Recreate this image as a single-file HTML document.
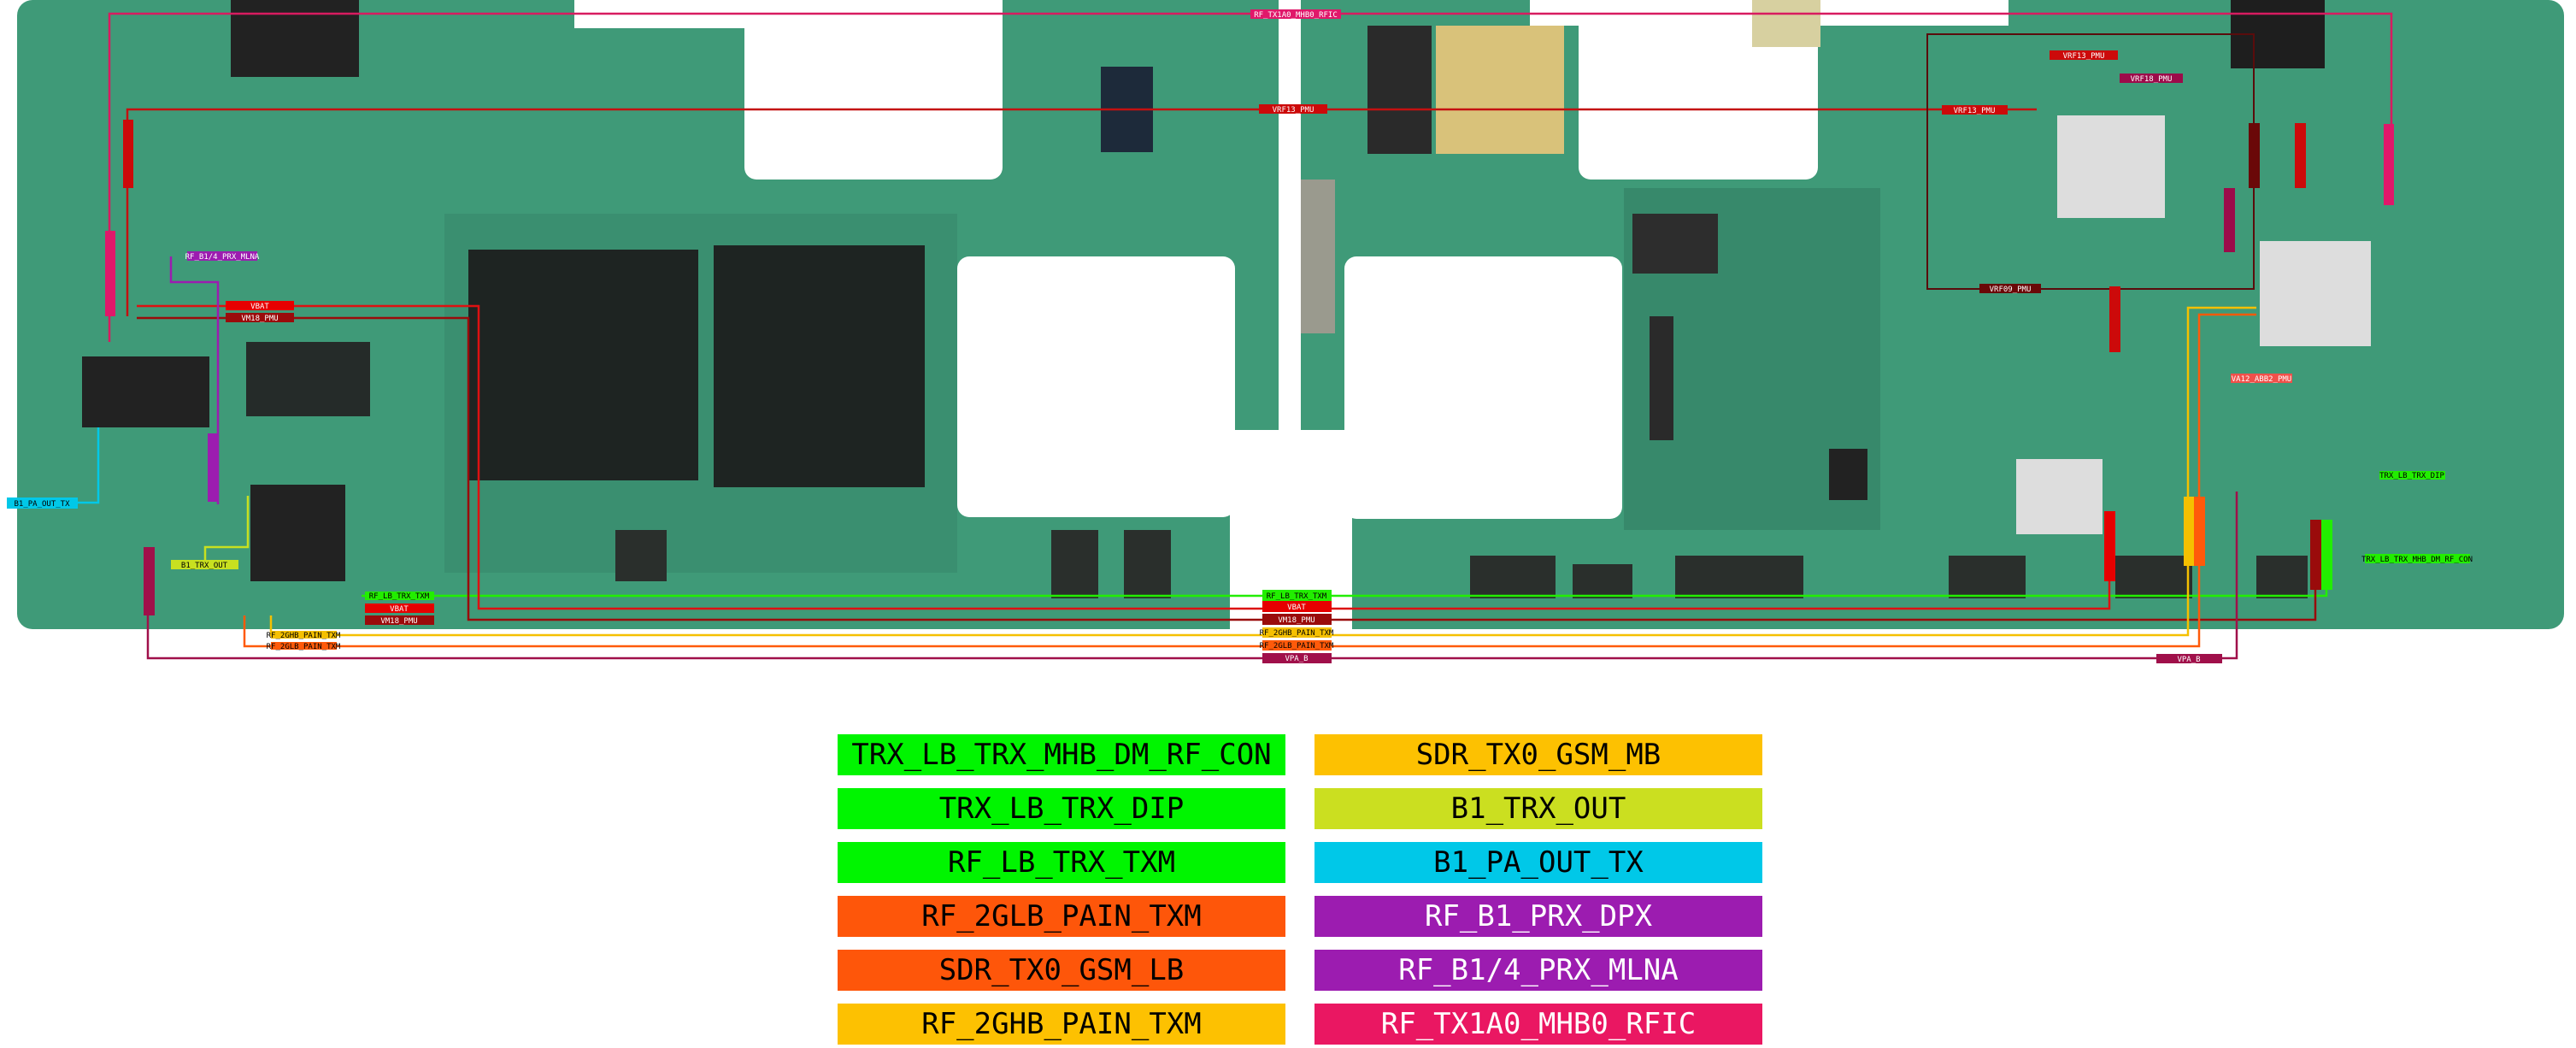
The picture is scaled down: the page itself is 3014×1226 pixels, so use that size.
<!DOCTYPE html>
<html><head><meta charset="utf-8"><style>
html,body{margin:0;padding:0;background:#fff}
body{width:3014px;height:1226px;overflow:hidden;position:relative;font-family:"DejaVu Sans Mono","Liberation Mono",monospace}
.lg{position:absolute;width:524px;height:48px;line-height:48px;text-align:center;font-size:34px;color:#000}
.w{color:#fff}
</style></head><body>
<svg width="3014" height="780" viewBox="0 0 3014 780" style="position:absolute;left:0;top:0" font-family="DejaVu Sans Mono, monospace">
<rect x="20" y="0" width="2980" height="736" rx="18" fill="#3f9a78"/>
<rect x="520" y="250" width="600" height="420" fill="#3a8f70"/>
<rect x="1900" y="220" width="300" height="400" fill="#37896b"/>
<!-- cutouts -->
<rect x="672" y="0" width="501" height="33" fill="#fff"/>
<rect x="871" y="0" width="302" height="210" rx="14" fill="#fff"/>
<rect x="1120" y="300" width="325" height="305" rx="14" fill="#fff"/>
<rect x="1573" y="300" width="325" height="307" rx="14" fill="#fff"/>
<rect x="1847" y="0" width="280" height="210" rx="14" fill="#fff"/>
<rect x="1790" y="0" width="560" height="30" fill="#fff"/>
<rect x="1439" y="503" width="143" height="240" fill="#fff"/>
<rect x="1496" y="0" width="26" height="505" fill="#fff"/>
<rect x="0" y="0" width="20" height="737" fill="#fff"/>
<!-- chips -->
<rect x="548" y="292" width="269" height="270" fill="#1e2422"/>
<rect x="835" y="287" width="247" height="283" fill="#1e2422"/>
<rect x="96" y="417" width="149" height="83" fill="#222"/>
<rect x="288" y="400" width="145" height="87" fill="#252b29"/>
<rect x="293" y="567" width="111" height="113" fill="#222"/>
<rect x="270" y="0" width="150" height="90" fill="#222"/>
<rect x="1288" y="78" width="61" height="100" fill="#1d2a3a"/>
<rect x="2407" y="135" width="126" height="120" fill="#ddd"/>
<rect x="2644" y="282" width="130" height="123" fill="#ddd"/>
<rect x="2359" y="537" width="101" height="88" fill="#ddd"/>
<rect x="1600" y="30" width="75" height="150" fill="#2a2a2a"/>
<rect x="1680" y="30" width="150" height="150" fill="#d9c27a"/>
<rect x="1910" y="250" width="100" height="70" fill="#2d2d2d"/>
<rect x="2050" y="0" width="80" height="55" fill="#d7d0a0"/>
<rect x="2610" y="0" width="110" height="80" fill="#1e1e1e"/>
<rect x="1930" y="370" width="28" height="145" fill="#2a2a2a"/>
<rect x="2140" y="525" width="45" height="60" fill="#222"/>
<rect x="1522" y="210" width="40" height="180" fill="#9a9a8e"/>
<g fill="#2a2f2c"><rect x="720" y="620" width="60" height="60"/><rect x="1720" y="650" width="100" height="50"/><rect x="1960" y="650" width="150" height="50"/><rect x="2280" y="650" width="90" height="50"/><rect x="2475" y="650" width="90" height="50"/><rect x="2640" y="650" width="60" height="50"/><rect x="1840" y="660" width="70" height="40"/><rect x="1230" y="620" width="55" height="80"/><rect x="1315" y="620" width="55" height="80"/></g>
<!-- lines -->
<g fill="none" stroke-width="2.5">
<polyline points="128,400 128,16 2798,16 2798,240" stroke="#d81b60"/>
<polyline points="149,370 149,128 2383,128" stroke="#c41010"/>
<polyline points="423,697 2722,697 2722,608" stroke="#22ee00"/>
<polyline points="160,358 560,358 560,712 2468,712 2468,598" stroke="#dd1111"/>
<polyline points="160,372 548,372 548,725 2709,725 2709,608" stroke="#9a0b0b"/>
<polyline points="317,720 317,743 2560,743 2560,360 2640,360" stroke="#f5c000"/>
<polyline points="286,720 286,756 2573,756 2573,368 2640,368" stroke="#ff5a0a"/>
<polyline points="173,640 173,770 2617,770 2617,575" stroke="#a0104a"/>
<polyline points="200,300 200,330 255,330 255,590" stroke="#9c1cb0"/>
<polyline points="91,588 115,588 115,500" stroke="#00c8e8"/>
<polyline points="240,666 240,640 290,640 290,580" stroke="#c8e020"/>
<rect x="2255" y="40" width="382" height="298" stroke="#5a0c0c" stroke-width="2"/>
</g>
<g font-size="9" text-anchor="middle">
<rect x="1463" y="11" width="106" height="11" fill="#e0186a"/><text x="1516" y="20" fill="#fff">RF_TX1A0_MHB0_RFIC</text>
<rect x="1473" y="122" width="80" height="11" fill="#cc0a0a"/><text x="1513" y="131" fill="#fff">VRF13_PMU</text>
<rect x="2272" y="123" width="77" height="11" fill="#cc0a0a"/><text x="2310" y="132" fill="#fff">VRF13_PMU</text>
<rect x="2398" y="59" width="80" height="11" fill="#cc0a0a"/><text x="2438" y="68" fill="#fff">VRF13_PMU</text>
<rect x="2480" y="86" width="74" height="11" fill="#9c0b4a"/><text x="2517" y="95" fill="#fff">VRF18_PMU</text>
<rect x="2316" y="332" width="72" height="11" fill="#6a0808"/><text x="2352" y="341" fill="#fff">VRF09_PMU</text>
<rect x="2610" y="437" width="72" height="11" fill="#f0504a"/><text x="2646" y="446" fill="#fff">VA12_ABB2_PMU</text>
<rect x="264" y="352" width="80" height="11" fill="#e60000"/><text x="304" y="361" fill="#fff">VBAT</text>
<rect x="264" y="366" width="80" height="11" fill="#9a0b0b"/><text x="304" y="375" fill="#fff">VM18_PMU</text>
<rect x="219" y="294" width="82" height="11" fill="#9c1cb0"/><text x="260" y="303" fill="#fff">RF_B1/4_PRX_MLNA</text>
<rect x="8" y="582" width="83" height="13" fill="#00c8e8"/><text x="49" y="592" fill="#000">B1_PA_OUT_TX</text>
<rect x="200" y="655" width="79" height="11" fill="#c8e020"/><text x="239" y="664" fill="#000">B1_TRX_OUT</text>
<rect x="427" y="692" width="81" height="10" fill="#22ee00"/><text x="467" y="700" fill="#000">RF_LB_TRX_TXM</text>
<rect x="427" y="706" width="81" height="11" fill="#e60000"/><text x="467" y="715" fill="#fff">VBAT</text>
<rect x="427" y="720" width="81" height="11" fill="#9a0b0b"/><text x="467" y="729" fill="#fff">VM18_PMU</text>
<rect x="317" y="738" width="77" height="9" fill="#f5c000"/><text x="355" y="746" fill="#000">RF_2GHB_PAIN_TXM</text>
<rect x="317" y="751" width="77" height="9" fill="#ff5a0a"/><text x="355" y="759" fill="#000">RF_2GLB_PAIN_TXM</text>
<rect x="1477" y="690" width="81" height="13" fill="#22ee00"/><text x="1517" y="700" fill="#000">RF_LB_TRX_TXM</text>
<rect x="1477" y="703" width="81" height="13" fill="#e60000"/><text x="1517" y="713" fill="#fff">VBAT</text>
<rect x="1477" y="718" width="81" height="13" fill="#9a0b0b"/><text x="1517" y="728" fill="#fff">VM18_PMU</text>
<rect x="1477" y="734" width="81" height="12" fill="#f5c000"/><text x="1517" y="743" fill="#000">RF_2GHB_PAIN_TXM</text>
<rect x="1477" y="749" width="81" height="12" fill="#ff5a0a"/><text x="1517" y="758" fill="#000">RF_2GLB_PAIN_TXM</text>
<rect x="1477" y="764" width="81" height="12" fill="#a0104a"/><text x="1517" y="773" fill="#fff">VPA_B</text>
<rect x="2523" y="765" width="77" height="11" fill="#a0104a"/><text x="2561" y="774" fill="#fff">VPA_B</text>
<rect x="2784" y="551" width="77" height="10" fill="#22ee00"/><text x="2822" y="559" fill="#000">TRX_LB_TRX_DIP</text>
<rect x="2767" y="648" width="123" height="11" fill="#22ee00"/><text x="2828" y="657" fill="#000">TRX_LB_TRX_MHB_DM_RF_CON</text>
</g>
<g>
<rect x="144" y="140" width="12" height="80" fill="#cc0a0a"/>
<rect x="123" y="270" width="12" height="100" fill="#e0186a"/>
<rect x="168" y="640" width="13" height="80" fill="#a0104a"/>
<rect x="243" y="507" width="13" height="80" fill="#9c1cb0"/>
<rect x="2462" y="598" width="13" height="82" fill="#e60000"/>
<rect x="2555" y="581" width="13" height="81" fill="#f5c000"/>
<rect x="2567" y="581" width="13" height="81" fill="#ff5a0a"/>
<rect x="2703" y="608" width="13" height="82" fill="#9a0b0b"/>
<rect x="2716" y="608" width="13" height="82" fill="#22ee00"/>
<rect x="2631" y="144" width="13" height="76" fill="#6a0808"/>
<rect x="2685" y="144" width="13" height="76" fill="#cc0a0a"/>
<rect x="2789" y="145" width="12" height="95" fill="#e0186a"/>
<rect x="2602" y="220" width="13" height="75" fill="#9c0b4a"/>
<rect x="2468" y="335" width="13" height="77" fill="#cc0a0a"/>
</g>
</svg>
<div class="lg" style="left:980px;top:859px;background:#00f500">TRX_LB_TRX_MHB_DM_RF_CON</div>
<div class="lg" style="left:980px;top:922px;background:#00f500">TRX_LB_TRX_DIP</div>
<div class="lg" style="left:980px;top:985px;background:#00f500">RF_LB_TRX_TXM</div>
<div class="lg" style="left:980px;top:1048px;background:#fe560a">RF_2GLB_PAIN_TXM</div>
<div class="lg" style="left:980px;top:1111px;background:#fe560a">SDR_TX0_GSM_LB</div>
<div class="lg" style="left:980px;top:1174px;background:#fdc101">RF_2GHB_PAIN_TXM</div>
<div class="lg" style="left:1538px;top:859px;background:#fdc101">SDR_TX0_GSM_MB</div>
<div class="lg" style="left:1538px;top:922px;background:#cbdf20">B1_TRX_OUT</div>
<div class="lg" style="left:1538px;top:985px;background:#00c8e8">B1_PA_OUT_TX</div>
<div class="lg w" style="left:1538px;top:1048px;background:#9c1cb0">RF_B1_PRX_DPX</div>
<div class="lg w" style="left:1538px;top:1111px;background:#9c1cb0">RF_B1/4_PRX_MLNA</div>
<div class="lg w" style="left:1538px;top:1174px;background:#ea1762">RF_TX1A0_MHB0_RFIC</div>
</body></html>
